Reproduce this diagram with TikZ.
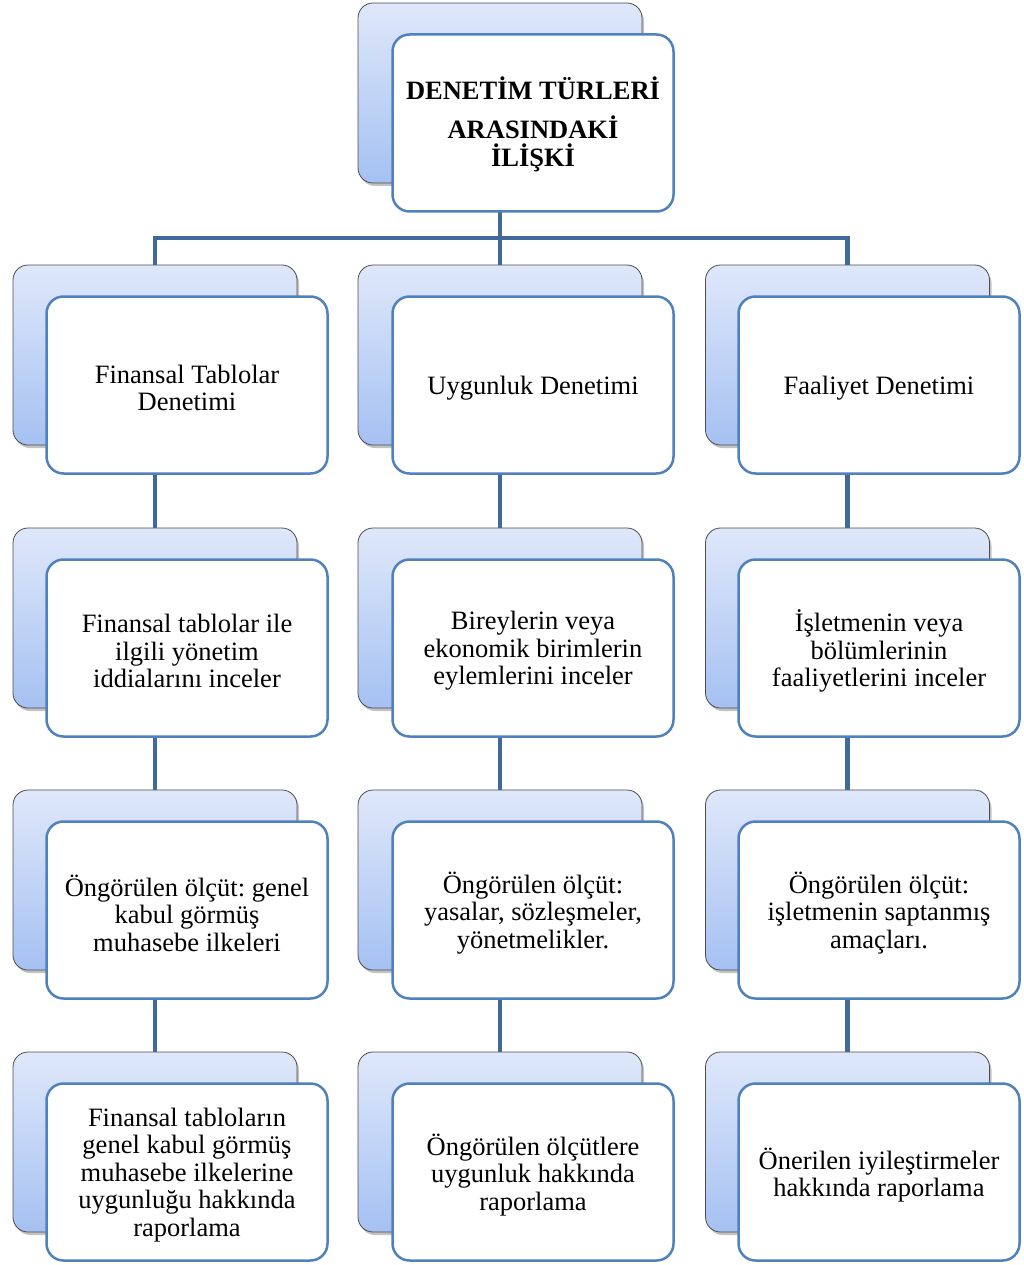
\documentclass[tikz,border=0pt]{standalone}
\usepackage{fontspec}
\setmainfont{Liberation Serif}
\frenchspacing
\usetikzlibrary{shadows}
\definecolor{conncol}{HTML}{41699C}
\definecolor{frontbd}{HTML}{4F81BD}
\definecolor{backtop}{HTML}{DFE8FA}
\definecolor{backbot}{HTML}{A5C1F2}
\tikzset{
  backbox/.style={draw=black!70, line width=0.8pt, rounded corners=15pt,
    top color=backtop, bottom color=backbot,
    minimum width=284pt, minimum height=180pt, inner sep=0pt,
    drop shadow={shadow xshift=2pt, shadow yshift=-3pt, opacity=0.4, fill=black!60}},
  frontbox/.style={draw=frontbd, line width=2.5pt, rounded corners=17pt, fill=white,
    minimum width=281pt, minimum height=177pt, inner sep=0pt},
  boxtext/.style={align=center, inner sep=0pt, font=\fontsize{26.5}{27.6}\selectfont},
  conn/.style={draw=conncol, line width=4.5pt}
}
\newcommand\frontnode[3]{%
  \node[frontbox] (#1) at (#2) {};
  \node[boxtext] (#1t) at ([yshift=-3pt]#1.center) {#3};}
\begin{document}
\begin{tikzpicture}[x=1pt,y=-1pt]
\useasboundingbox (0,0) rectangle (1023,1265);
% back boxes
\node[backbox] (tb) at (500,93) {};
\node[backbox] (b11) at (155,355) {};
\node[backbox] (b12) at (500,355) {};
\node[backbox] (b13) at (847.5,355) {};
\node[backbox] (b21) at (155,618) {};
\node[backbox] (b22) at (500,618) {};
\node[backbox] (b23) at (847.5,618) {};
\node[backbox] (b31) at (155,880) {};
\node[backbox] (b32) at (500,880) {};
\node[backbox] (b33) at (847.5,880) {};
\node[backbox] (b41) at (155,1142) {};
\node[backbox] (b42) at (500,1142) {};
\node[backbox] (b43) at (847.5,1142) {};
% connectors
\coordinate (j) at (500,238);
\draw[conn] (tb.south) -- (j);
\draw[conn] (b11.north) |- (j) -| (b13.north);
\draw[conn] (j) -- (b12.north);
\draw[conn] (b11.south) -- (b21.north);
\draw[conn] (b12.south) -- (b22.north);
\draw[conn] (b13.south) -- (b23.north);
\draw[conn] (b21.south) -- (b31.north);
\draw[conn] (b22.south) -- (b32.north);
\draw[conn] (b23.south) -- (b33.north);
\draw[conn] (b31.south) -- (b41.north);
\draw[conn] (b32.south) -- (b42.north);
\draw[conn] (b33.south) -- (b43.north);
% front boxes
\node[frontbox] (tf) at (533,123) {};
\node[boxtext, font=\fontsize{26.5}{27.6}\selectfont\bfseries] (tft) at ([yshift=-1pt]tf.center)
  {DENETİM TÜRLERİ\\[12pt]ARASINDAKİ\\İLİŞKİ};
\frontnode{f11}{187,385}{Finansal Tablolar\\Denetimi}
\frontnode{f12}{533,385}{Uygunluk Denetimi}
\frontnode{f13}{879,385}{Faaliyet Denetimi}
\frontnode{f21}{187,648}{Finansal tablolar ile\\ilgili yönetim\\iddialarını inceler}
\frontnode{f22}{533,648}{Bireylerin veya\\ekonomik birimlerin\\eylemlerini inceler}
\frontnode{f23}{879,648}{İşletmenin veya\\bölümlerinin\\faaliyetlerini inceler}
\frontnode{f31}{187,910}{Öngörülen ölçüt: genel\\kabul görmüş\\muhasebe ilkeleri}
\frontnode{f32}{533,910}{Öngörülen ölçüt:\\yasalar, sözleşmeler,\\yönetmelikler.}
\frontnode{f33}{879,910}{Öngörülen ölçüt:\\işletmenin saptanmış\\amaçları.}
\frontnode{f41}{187,1172}{Finansal tabloların\\genel kabul görmüş\\muhasebe ilkelerine\\uygunluğu hakkında\\raporlama}
\frontnode{f42}{533,1172}{Öngörülen ölçütlere\\uygunluk hakkında\\raporlama}
\frontnode{f43}{879,1172}{Önerilen iyileştirmeler\\hakkında raporlama}
\end{tikzpicture}
\end{document}
